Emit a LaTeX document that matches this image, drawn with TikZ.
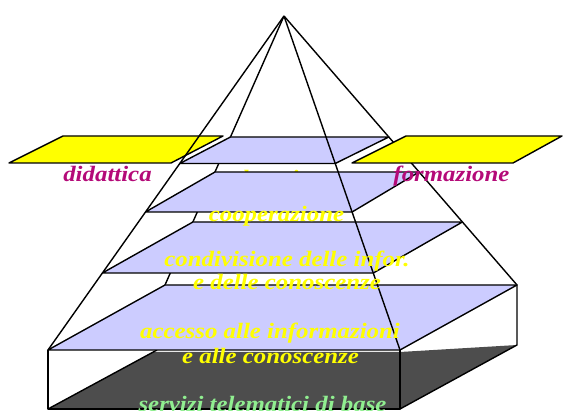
\documentclass[tikz,border=0pt]{standalone}
\usepackage{fontspec}
\setmainfont{Liberation Serif}
\definecolor{lav}{RGB}{204,204,255}
\definecolor{darkface}{RGB}{77,77,77}
\definecolor{magen}{RGB}{180,10,120}
\definecolor{lgreen}{RGB}{144,238,144}
\definecolor{yel}{RGB}{255,255,0}
\newcommand\widetxt[1]{\scalebox{1.13}[1]{#1}}
\tikzset{
  edge/.style={black, line width=1.4pt, line join=round},
  plane/.style={draw=black, fill=lav, line width=1.4pt, line join=round},
  yplane/.style={draw=black, fill=yel, line width=1.4pt, line join=round},
  lbl/.style={inner sep=0pt, anchor=base, font=\fontsize{22}{24}\selectfont\bfseries\itshape},
}
\begin{document}
\begin{tikzpicture}[x=1pt,y=-1pt]
\useasboundingbox (0,0) rectangle (563,411);
% pyramid corners
\coordinate (A) at (284,16);
\coordinate (FL) at (48,350);
\coordinate (FR) at (400,350);
\coordinate (BR) at (517,285);
\coordinate (BL) at (165,285);
% back edges
\draw[edge] (A) -- (BL);
\draw[edge] (A) -- (BR);
% yellow side planes
\draw[yplane] (406,136) -- (562,136) -- (513,163) -- (352,163) -- cycle;
\draw[yplane] (63,136) -- (223,136) -- (171,163) -- (9,163) -- cycle;
\draw[edge] (A) -- (FL);
% base box
\fill[darkface] (48,409) -- (153,352) -- (400,352) -- (517,345) -- (400,409) -- cycle;
\draw[edge] (48,409) -- (157,350);
\draw[edge] (FL) -- (48,409) -- (400,409) -- (FR);
\draw[edge] (400,409) -- (517,345) -- (BR);
% hidden label
\node[lbl, text=yel] (valut) at (277,186) {\widetxt{valutazione}};
% lavender planes
\draw[plane] (FL) -- (FR) -- (BR) -- (BL) -- cycle;
\draw[plane] (102.4,273) -- (373.3,273) -- (462.4,222) -- (192.9,222) -- cycle;
\draw[plane] (145.5,212) -- (352.1,212) -- (419.1,172) -- (215,172) -- cycle;
\draw[plane] (179.8,163.5) -- (335.2,163.5) -- (388.8,137) -- (230.5,137) -- cycle;
% front edge on top
\draw[edge] (A) -- (FR);
% labels
\node[lbl, text=magen] (did) at (107.5,182) {\widetxt{didattica}};
\node[lbl, text=magen] (form) at (451.5,182) {\widetxt{formazione}};
\node[lbl, text=yel] (coop) at (276.5,222) {\widetxt{cooperazione}};
\node[lbl, text=yel] (cond1) at (287,267) {\widetxt{condivisione delle infor.}};
\node[lbl, text=yel] (cond2) at (287,289.5) {\widetxt{e delle conoscenze}};
\node[lbl, text=yel] (acc1) at (270,338.5) {\widetxt{accesso alle informazioni}};
\node[lbl, text=yel] (acc2) at (270.5,363.5) {\widetxt{e alle conoscenze}};
\node[lbl, text=lgreen] (serv) at (262.5,412) {\widetxt{servizi telematici di base}};
\end{tikzpicture}
\end{document}
